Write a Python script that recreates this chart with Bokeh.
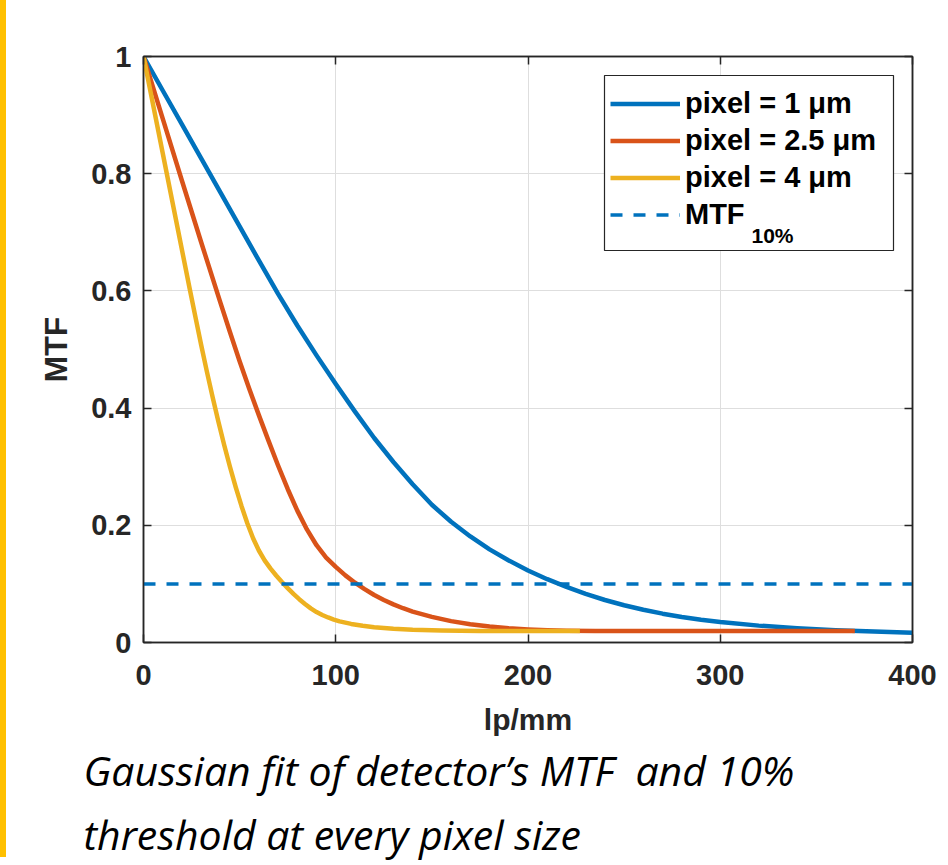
from bokeh.plotting import figure
from bokeh.models import (Range1d, LinearAxis, FixedTicker, CustomJSTickFormatter,
                          Legend, LegendItem, Label, Div, Title, BoxAnnotation)
from bokeh.layouts import row
from bokeh.embed import file_html
from bokeh.resources import INLINE

# ---- data ----
lpmm_px1 = [0, 10, 20, 30, 40, 50, 60, 70, 80, 90, 100, 110, 120, 130, 140, 150,
            160, 170, 180, 190, 200, 210, 220, 230, 240, 250, 260, 270, 280, 290,
            300, 320, 340, 360, 380, 400]
mtf_px1 = [1.000, 0.942, 0.884, 0.826, 0.768, 0.710, 0.652, 0.595, 0.541, 0.490,
           0.441, 0.394, 0.349, 0.308, 0.270, 0.235, 0.206, 0.181, 0.159, 0.140,
           0.123, 0.108, 0.095, 0.083, 0.0725, 0.0635, 0.0558, 0.0492, 0.0436,
           0.0389, 0.0350, 0.0288, 0.0243, 0.0210, 0.0186, 0.0167]

lpmm_px25 = [0, 10, 20, 30, 40, 45, 50, 55, 60, 65, 70, 75, 80, 85, 90, 95, 100,
             105, 110, 115, 120, 125, 130, 135, 140, 150, 160, 170, 180, 190, 200,
             210, 220, 235, 260, 300, 370]
mtf_px25 = [1.000, 0.894, 0.788, 0.683, 0.580, 0.5295, 0.480, 0.433, 0.388,
            0.3445, 0.302, 0.262, 0.225, 0.193, 0.166, 0.145, 0.129, 0.1145, 0.102,
            0.091, 0.081, 0.0725, 0.065, 0.0585, 0.0528, 0.0437, 0.0365, 0.0312,
            0.0272, 0.0243, 0.0222, 0.0208, 0.0201, 0.0197, 0.0195, 0.0195, 0.0195]

lpmm_px4 = [0, 6, 12, 18, 24, 27, 30, 33, 36, 39, 42, 45, 48, 51, 54, 57, 60, 63,
            66, 69, 72, 75, 78, 81, 84, 87, 90, 93, 96, 99, 102, 108, 114, 120, 130,
            140, 155, 175, 200, 227]
mtf_px4 = [1.000, 0.901, 0.802, 0.703, 0.604, 0.5557, 0.5077, 0.4618, 0.418,
           0.3763, 0.3367, 0.2995, 0.2647, 0.2326, 0.2035, 0.178, 0.157, 0.1402,
           0.1264, 0.1144, 0.1033, 0.0928, 0.0829, 0.0739, 0.0658, 0.0583, 0.052,
           0.0469, 0.0427, 0.0391, 0.0361, 0.0317, 0.0285, 0.0261, 0.0233, 0.0216,
           0.0203, 0.0197, 0.0195, 0.0195]

thr_lpmm = [0, 400]
thr_mtf = [0.1, 0.1]

x_ticks = [0, 100, 200, 300, 400]
y_ticks = [0, 0.2, 0.4, 0.6, 0.8, 1]

series_labels = ["pixel = 1 \u03bcm", "pixel = 2.5 \u03bcm", "pixel = 4 \u03bcm", "MTF"]
threshold_sub = "10%"
colors = ["#0072BD", "#D95319", "#EDB120"]

caption1 = "Gaussian fit of detector\u2019s MTF \u00a0and 10%"
caption2 = "threshold at every pixel size"

# ---- figure ----
INK = "#262626"
FONT = "Liberation Sans"

p = figure(frame_width=769, frame_height=586,
           x_range=Range1d(0, 400), y_range=Range1d(0, 1),
           min_border_left=137, min_border_right=28,
           min_border_top=56, min_border_bottom=215,
           output_backend="svg", toolbar_location=None,
           background_fill_color="white", border_fill_color="white")
p.outline_line_color = INK
p.outline_line_width = 1.5

no_label = CustomJSTickFormatter(code="return ''")
num_label = CustomJSTickFormatter(code="return tick.toString()")


def style_axis(ax, ticks, show_labels):
    ax.ticker = FixedTicker(ticks=ticks)
    ax.major_tick_in = 8
    ax.major_tick_out = 0
    ax.minor_tick_line_color = None
    ax.axis_line_color = INK
    ax.axis_line_width = 1.5
    ax.major_tick_line_color = INK
    ax.major_tick_line_width = 1.5
    ax.major_label_text_font = FONT
    ax.major_label_text_font_style = "bold"
    ax.major_label_text_color = INK
    ax.major_label_text_font_size = "29px"
    if show_labels:
        ax.formatter = num_label
    else:
        ax.formatter = no_label
        ax.major_label_text_font_size = "0px"
        ax.major_label_standoff = 0


xa = p.xaxis[0]
ya = p.yaxis[0]
style_axis(xa, x_ticks, True)
style_axis(ya, y_ticks, True)
xa.major_label_standoff = 22
ya.major_label_standoff = 12
xa.axis_label = "lp/mm"
ya.axis_label = "MTF"
for ax, sz, so in ((xa, "30px", 15), (ya, "32px", 14)):
    ax.axis_label_text_font = FONT
    ax.axis_label_text_font_style = "bold"
    ax.axis_label_text_font_size = sz
    ax.axis_label_text_color = INK
    ax.axis_label_standoff = so

top = LinearAxis()
right = LinearAxis()
style_axis(top, x_ticks, False)
style_axis(right, y_ticks, False)
p.add_layout(top, "above")
p.add_layout(right, "right")

p.xgrid.ticker = FixedTicker(ticks=x_ticks)
p.ygrid.ticker = FixedTicker(ticks=y_ticks)
for g in (p.xgrid, p.ygrid):
    g.grid_line_color = "#dedede"
    g.grid_line_width = 1

r1 = p.line(lpmm_px1, mtf_px1, line_color=colors[0], line_width=4.5, line_join="round")
r2 = p.line(lpmm_px25, mtf_px25, line_color=colors[1], line_width=4.5, line_join="round")
r3 = p.line(lpmm_px4, mtf_px4, line_color=colors[2], line_width=4.5, line_join="round")
r4 = p.line(thr_lpmm, thr_mtf, line_color=colors[0], line_width=3.5, line_dash="12 11")

# legend frame (white box with dark border), legend drawn transparent on top
p.add_layout(BoxAnnotation(left=461, right=750, bottom=392, top=567,
                           left_units="screen", right_units="screen",
                           bottom_units="screen", top_units="screen",
                           fill_color="white", fill_alpha=1,
                           line_color=INK, line_width=1.2, line_alpha=1))

legend = Legend(items=[LegendItem(label=series_labels[0], renderers=[r1]),
                       LegendItem(label=series_labels[1], renderers=[r2]),
                       LegendItem(label=series_labels[2], renderers=[r3]),
                       LegendItem(label=series_labels[3], renderers=[r4])],
                location=(467, 411), orientation="vertical",
                label_text_font=FONT, label_text_font_style="bold",
                label_text_font_size="29px", label_text_color="black",
                glyph_width=70, glyph_height=33, label_height=33,
                label_standoff=5, spacing=4, padding=10, margin=0,
                border_line_color=None,
                background_fill_alpha=0)
p.add_layout(legend)

p.add_layout(Label(x=608, y=407, x_units="screen", y_units="screen",
                   text=threshold_sub, text_font=FONT, text_font_style="bold",
                   text_font_size="21px", text_color="black",
                   text_baseline="alphabetic", level="overlay"))

caption = Title(text=caption1 + "\n" + caption2, align="left", offset=-60,
                standoff=4, text_line_height=1.15,
                text_font="Open Sans", text_font_style="italic",
                text_font_size="41px", text_color="black")
p.add_layout(caption, "below")

bar = Div(text="", width=6, height=857, margin=0,
          styles={"background-color": "#FFC000"})

layout = row(bar, p, spacing=0)

open("out.html", "w").write(file_html(layout, INLINE))
